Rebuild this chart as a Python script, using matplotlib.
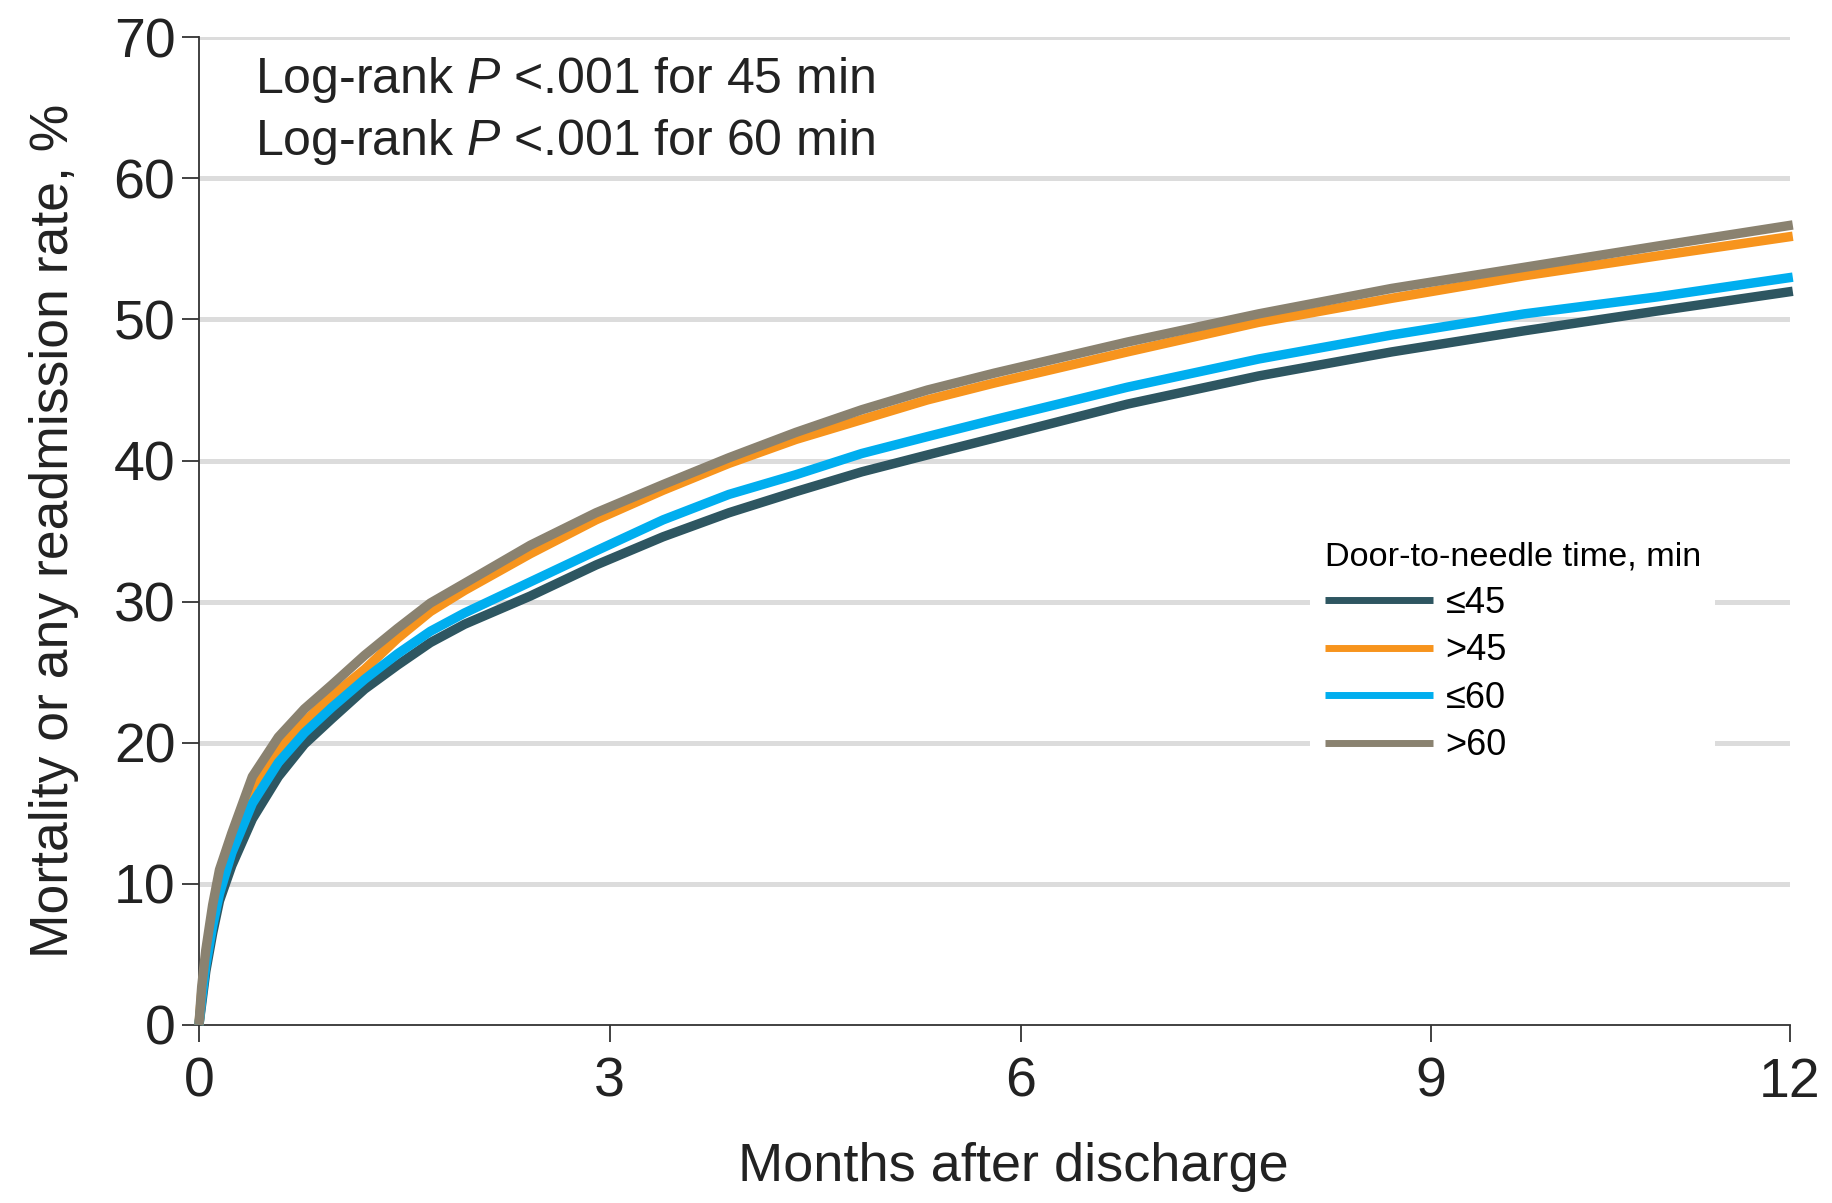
import matplotlib
matplotlib.use("Agg")
import matplotlib.pyplot as plt
from matplotlib import font_manager

# pick a narrow sans if it is there
names = {f.name for f in font_manager.fontManager.ttflist}
fam = "Liberation Sans Narrow" if "Liberation Sans Narrow" in names else "Liberation Sans"
plt.rcParams['font.family'] = [fam, 'DejaVu Sans']
plt.rcParams['mathtext.fontset'] = 'custom'
plt.rcParams['mathtext.rm'] = fam
plt.rcParams['mathtext.it'] = fam + ':italic'

months = [0, 0.02, 0.05, 0.1, 0.15, 0.24, 0.39, 0.58, 0.77, 0.97, 1.21, 1.45, 1.69, 1.94,
          2.42, 2.9, 3.39, 3.87, 4.36, 4.84, 5.32, 5.81, 6.78, 7.74, 8.71, 9.68, 10.65, 11.64]
le45 = [0, 1.5, 3.8, 6.5, 8.8, 11.3, 14.6, 17.6, 19.9, 21.7, 23.8, 25.5, 27.1, 28.4,
        30.4, 32.6, 34.6, 36.3, 37.8, 39.2, 40.4, 41.6, 44.0, 46.0, 47.7, 49.2, 50.6, 52.0]
gt45 = [0, 2.3, 4.8, 7.8, 10.3, 13.0, 16.9, 19.5, 21.5, 23.3, 25.2, 27.4, 29.3, 30.8,
        33.4, 35.8, 37.9, 39.8, 41.5, 42.9, 44.3, 45.5, 47.7, 49.8, 51.5, 53.1, 54.5, 55.9]
le60 = [0, 1.8, 4.2, 7.0, 9.3, 12.2, 15.7, 18.6, 20.7, 22.5, 24.5, 26.3, 27.9, 29.2,
        31.4, 33.6, 35.8, 37.6, 39.0, 40.5, 41.7, 42.9, 45.2, 47.2, 48.9, 50.4, 51.6, 53.0]
gt60 = [0, 2.7, 5.3, 8.5, 11.0, 13.6, 17.6, 20.4, 22.4, 24.1, 26.2, 28.1, 29.9, 31.3,
        34.0, 36.3, 38.3, 40.2, 42.0, 43.6, 45.0, 46.2, 48.4, 50.4, 52.2, 53.7, 55.2, 56.7]

labels = ["\u226445", ">45", "\u226460", ">60"]
colors = ["#2E5661", "#F7941D", "#00AEEF", "#8A8270"]
series = [le45, gt45, le60, gt60]
draw_order = [0, 2, 1, 3]

# the source axis ends a bit short of 12 months, but its last tick reads 12
x_end = 11.62
xtick_pos = [0, 3, 6, 9, x_end]
xtick_lab = ["0", "3", "6", "9", "12"]

fig = plt.figure(figsize=(18.32, 12.03), dpi=100)
ax = fig.add_axes([0.1086, 0.148, 0.8685, 0.821])

for y in range(10, 80, 10):
    ax.axhline(y, color="#DCDCDC", lw=3.6, zorder=0)

handles = {}
for i in draw_order:
    ln, = ax.plot(months, series[i], color=colors[i], lw=6.8, label=labels[i],
                  solid_capstyle='butt', zorder=2 + i, clip_on=False)
    handles[i] = ln

ax.set_xlim(0, x_end)
ax.set_ylim(0, 70)
ax.set_xticks(xtick_pos)
ax.set_xticklabels(xtick_lab)
ax.set_yticks(range(0, 80, 10))
ax.tick_params(axis='both', labelsize=40, length=12, width=1.3, color="#333333",
               labelcolor="#222222")
ax.tick_params(axis='x', pad=11)
ax.tick_params(axis='y', pad=5)
for s in ['top', 'right']:
    ax.spines[s].set_visible(False)
for s in ['left', 'bottom']:
    ax.spines[s].set_linewidth(1.3)
    ax.spines[s].set_color("#333333")

ax.set_xlabel("Months after discharge", fontsize=39, color="#222222")
ax.xaxis.set_label_coords(0.512, -0.119)
ax.set_ylabel("Mortality or any readmission rate, %", fontsize=38.5, labelpad=25,
              color="#222222")

ax.text(0.41, 66.95, r"Log-rank $\it{P}$ <.001 for 45 min", fontsize=36, va='center',
        color="#222222")
ax.text(0.41, 62.55, r"Log-rank $\it{P}$ <.001 for 60 min", fontsize=36, va='center',
        color="#222222")

leg = ax.legend([handles[i] for i in range(4)], labels, title="Door-to-needle time, min",
                loc='upper left', bbox_to_anchor=(0.687, 0.522), fontsize=26,
                title_fontsize=24.7, handlelength=3.0, labelspacing=0.35,
                handletextpad=0.35, borderpad=0.4, frameon=True, fancybox=False,
                framealpha=1, facecolor='white', edgecolor='none')
leg._legend_box.align = "left"
for ln in leg.get_lines():
    ln.set_linewidth(5)

fig.savefig("out.png", dpi=100)
